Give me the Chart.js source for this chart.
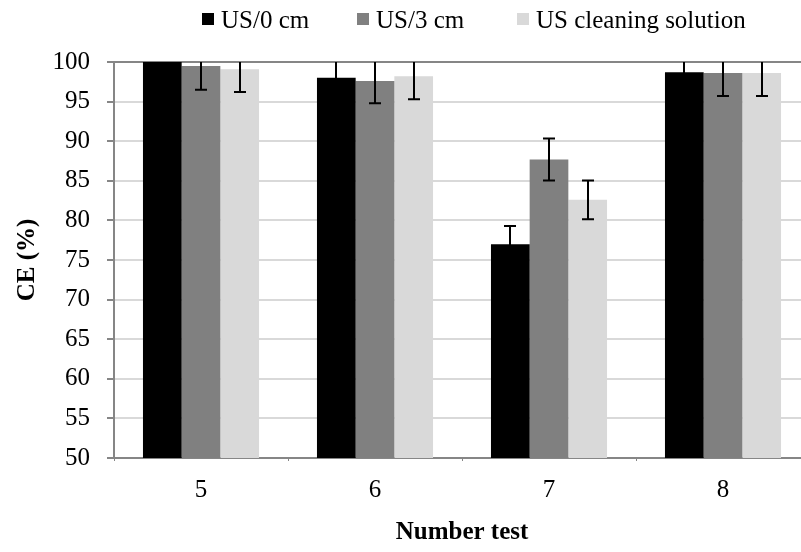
<!DOCTYPE html>
<html>
<head>
<meta charset="utf-8">
<script src="https://cdn.jsdelivr.net/npm/chart.js@4.4.1/dist/chart.umd.min.js"></script>
<style>
html, body { margin: 0; padding: 0; overflow: hidden; background: #fff; }
#wrap { position: relative; width: 830px; height: 552px; }
</style>
</head>
<body>
<div id="wrap"><canvas id="c"></canvas></div>
<script>
const categories = ['5', '6', '7', '8'];
const seriesNames = ['US/0 cm', 'US/3 cm', 'US cleaning solution'];
const us0 = [100, 98.0, 77.0, 98.7];
const us3 = [99.5, 97.6, 87.7, 98.6];
const usClean = [99.1, 98.2, 82.6, 98.6];
const us0Err = [2.5, 2.5, 2.3, 2.5];
const us3Err = [3.0, 2.8, 2.65, 2.9];
const usCleanErr = [2.9, 2.9, 2.45, 2.9];
const yTicks = [50, 55, 60, 65, 70, 75, 80, 85, 90, 95, 100];

const colors = ['#000000', '#808080', '#d9d9d9'];
const FONT = "'Liberation Serif', 'Times New Roman', serif";

const errorBars = {
  id: 'errorBars',
  afterDatasetsDraw(chart) {
    const ctx = chart.ctx;
    const ys = chart.scales.y;
    const area = chart.chartArea;
    ctx.save();
    ctx.beginPath();
    ctx.rect(area.left, area.top, area.right - area.left, area.bottom - area.top);
    ctx.clip();
    ctx.strokeStyle = '#000';
    ctx.lineWidth = 2;
    chart.data.datasets.forEach((ds, i) => {
      const meta = chart.getDatasetMeta(i);
      meta.data.forEach((bar, j) => {
        const v = ds.data[j], e = ds.errors[j];
        const yt = ys.getPixelForValue(v + e);
        const yb = ys.getPixelForValue(v - e);
        const x = Math.round(bar.x);
        ctx.beginPath();
        ctx.moveTo(x, yt); ctx.lineTo(x, yb);
        ctx.moveTo(x - 6, yt); ctx.lineTo(x + 6, yt);
        ctx.moveTo(x - 6, yb); ctx.lineTo(x + 6, yb);
        ctx.stroke();
      });
    });
    ctx.restore();
  }
};

const customLegend = {
  id: 'customLegend',
  afterDraw(chart) {
    const ctx = chart.ctx;
    const boxX = [202, 357, 517];
    ctx.save();
    ctx.font = '25px ' + FONT;
    ctx.textBaseline = 'alphabetic';
    ctx.textAlign = 'left';
    chart.data.datasets.forEach((ds, i) => {
      ctx.fillStyle = ds.backgroundColor;
      ctx.fillRect(boxX[i], 13, 12, 12);
      ctx.fillStyle = '#000';
      ctx.fillText(ds.label, boxX[i] + 19, 28);
    });
    ctx.restore();
  }
};

new Chart(document.getElementById('c'), {
  type: 'bar',
  data: {
    labels: categories,
    datasets: [
      { label: seriesNames[0], data: us0, errors: us0Err, backgroundColor: colors[0] },
      { label: seriesNames[1], data: us3, errors: us3Err, backgroundColor: colors[1] },
      { label: seriesNames[2], data: usClean, errors: usCleanErr, backgroundColor: colors[2] }
    ]
  },
  options: {
    responsive: true,
    maintainAspectRatio: false,
    animation: false,
    devicePixelRatio: 1,
    layout: { padding: { left: 0, right: 20, top: 62, bottom: 0 } },
    datasets: { bar: { categoryPercentage: 0.667, barPercentage: 1.0 } },
    plugins: { legend: { display: false }, tooltip: { enabled: false } },
    scales: {
      x: {
        grid: { drawOnChartArea: false, drawTicks: true, tickLength: 3, color: '#868686', offset: true },
        border: { color: '#868686', width: 2 },
        ticks: { color: '#000', font: { family: FONT, size: 25 }, padding: 14 },
        title: { display: true, text: 'Number test', color: '#000', font: { family: FONT, size: 25, weight: 'bold' }, padding: { top: 0, bottom: 4 } },
        afterFit(scale) { scale.height = 94; }
      },
      y: {
        min: 50, max: 100,
        afterBuildTicks(scale) { scale.ticks = yTicks.map(v => ({ value: v })); },
        grid: {
          color: ctx => (ctx.tick && ctx.tick.value === 100) ? '#868686' : '#d9d9d9',
          lineWidth: 2,
          tickLength: 7,
          tickColor: '#868686'
        },
        border: { color: '#868686', width: 2 },
        ticks: { color: '#000', font: { family: FONT, size: 25 }, padding: 17 },
        title: { display: true, text: 'CE (%)', color: '#000', font: { family: FONT, size: 25, weight: 'bold' }, padding: { top: 13, bottom: 0 } },
        afterFit(scale) { scale.width = 114; }
      }
    }
  },
  plugins: [errorBars, customLegend]
});
</script>
</body>
</html>
